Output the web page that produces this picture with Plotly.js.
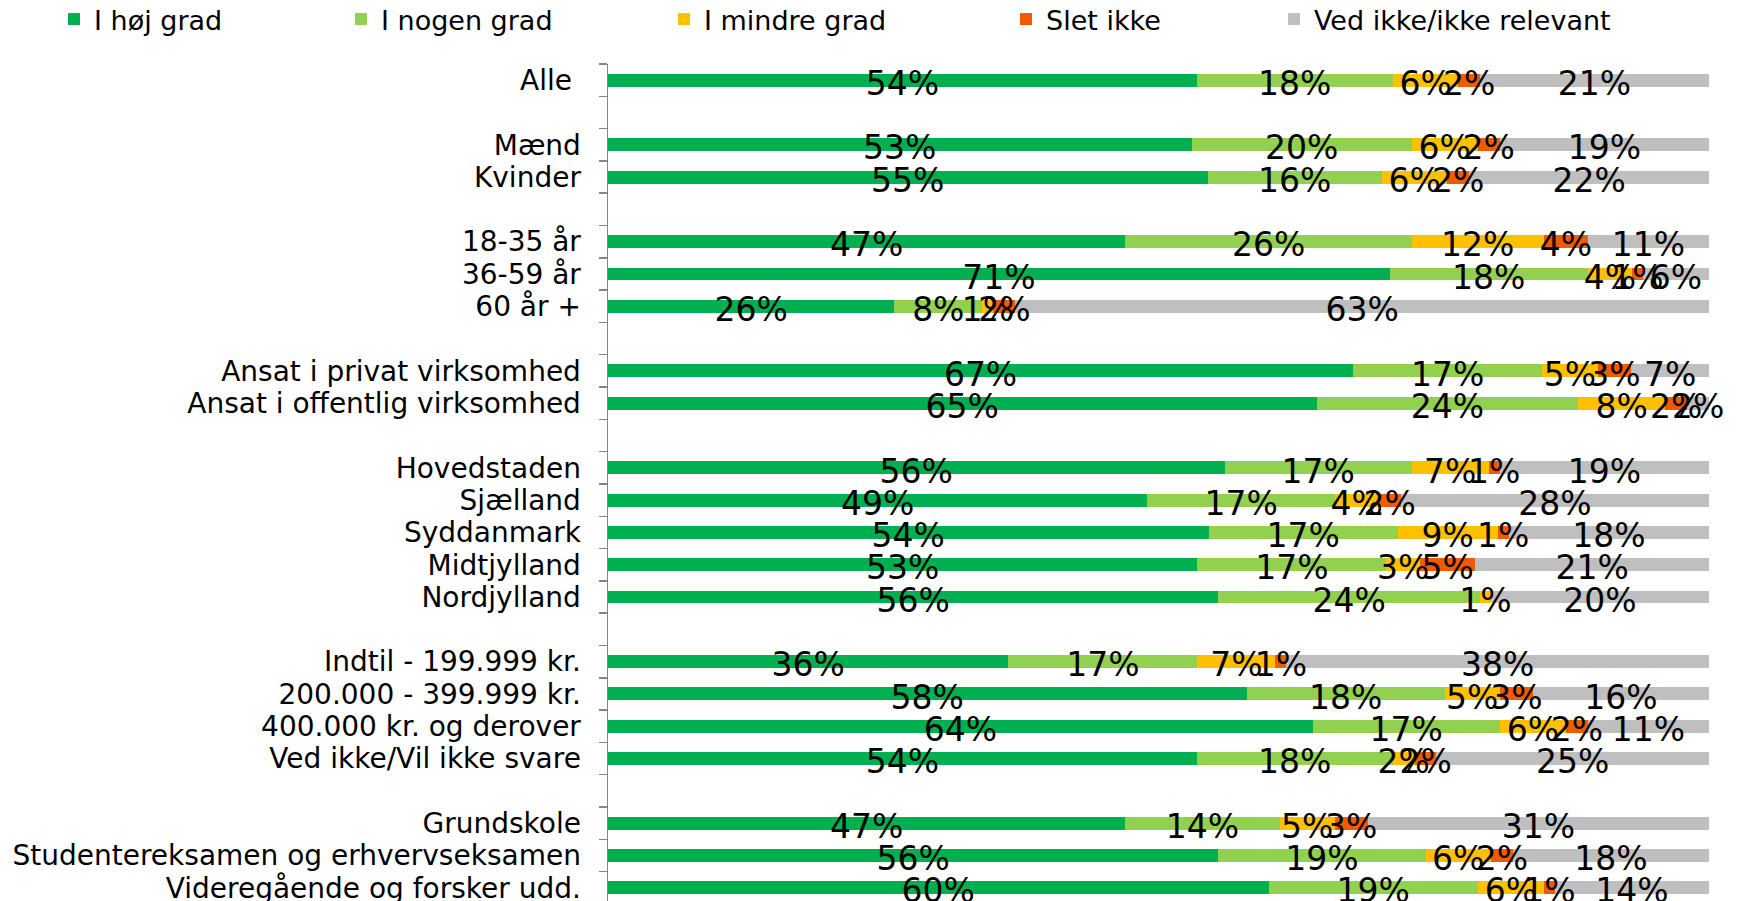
<!DOCTYPE html>
<html>
<head>
<meta charset="utf-8">
<script src="https://cdn.plot.ly/plotly-3.0.1.min.js"></script>
<style>
html,body{margin:0;padding:0;overflow:hidden;background:#ffffff}
#chart{width:1737px;height:901px}
</style>
</head>
<body>
<div id="chart"></div>
<script>
// Categories (blank entries are the gaps between groups)
const categories = [
  "Alle\u00a0", " ",
  "Mænd", "Kvinder", "  ",
  "18-35 år", "36-59 år", "60 år +", "   ",
  "Ansat i privat virksomhed", "Ansat i offentlig virksomhed", "    ",
  "Hovedstaden", "Sjælland", "Syddanmark", "Midtjylland", "Nordjylland", "     ",
  "Indtil - 199.999 kr.", "200.000 - 399.999 kr.", "400.000 kr. og derover", "Ved ikke/Vil ikke svare", "      ",
  "Grundskole", "Studentereksamen og erhvervseksamen", "Videregående og forsker udd."
];

// Series values (percent)
const hoejGrad   = [54,null,53,55,null,47,71,26,null,67,65,null,56,49,54,53,56,null,36,58,64,54,null,47,56,60];
const nogenGrad  = [18,null,20,16,null,26,18,8,null,17,24,null,17,17,17,17,24,null,17,18,17,18,null,14,19,19];
const mindreGrad = [6,null,6,6,null,12,4,1,null,5,8,null,7,4,9,3,1,null,7,5,6,2,null,5,6,6];
const sletIkke   = [2,null,2,2,null,4,1,2,null,3,2,null,1,2,1,5,0,null,1,3,2,2,null,3,2,1];
const vedIkke    = [21,null,19,22,null,11,6,63,null,7,2,null,19,28,18,21,20,null,38,16,11,25,null,31,18,14];

const seriesNames = ["I høj grad", "I nogen grad", "I mindre grad", "Slet ikke", "Ved ikke/ikke relevant"];
const seriesValues = [hoejGrad, nogenGrad, mindreGrad, sletIkke, vedIkke];
const seriesColors = ["#00B050", "#92D050", "#FFC000", "#F05A00", "#BFBFBF"];
const legendWidths = [242, 278, 297, 223, 300];

const FONT = "DejaVu Sans, Verdana, sans-serif";
const labelFont = {family: FONT, size: 33, color: "#000000"};

// Coloured bars (no text) on the main axes
const barTraces = seriesNames.map((name, i) => ({
  type: "bar",
  orientation: "h",
  name: name,
  y: categories,
  x: seriesValues[i],
  xaxis: "x",
  yaxis: "y",
  marker: {color: seriesColors[i], line: {width: 0}},
  legendwidth: legendWidths[i],
  hoverinfo: "name+x+y"
}));

// Same stacks on an overlaid pair of axes, transparent, carrying the data labels
// so that every label is drawn above every bar (as in the original chart)
const labelTraces = seriesNames.map((name, i) => ({
  type: "bar",
  orientation: "h",
  name: name,
  showlegend: false,
  y: categories,
  x: seriesValues[i],
  xaxis: "x2",
  yaxis: "y2",
  text: seriesValues[i].map(v => (v === null || v === 0) ? "" : v + "%"),
  textposition: "inside",
  insidetextanchor: "middle",
  textangle: 0,
  constraintext: "none",
  cliponaxis: false,
  textfont: labelFont,
  insidetextfont: labelFont,
  marker: {color: "rgba(0,0,0,0)", line: {width: 0}},
  hoverinfo: "skip"
}));

const PLOT_L = 608, PLOT_R = 28, PLOT_T = 64;
const plotW = 1737 - PLOT_L - PLOT_R;
const plotH = 901 - PLOT_T;
const X_RANGE = [0, 100.001];
const Y_RANGE = [25.41, -0.5];
const LABEL_SHIFT = 0.1; // labels sit slightly below the bar centre
const Y_RANGE_LABELS = [Y_RANGE[0] - LABEL_SHIFT, Y_RANGE[1] - LABEL_SHIFT];

const layout = {
  width: 1737,
  height: 901,
  barmode: "stack",
  barnorm: "percent",
  bargap: 0.6,
  paper_bgcolor: "#ffffff",
  plot_bgcolor: "#ffffff",
  margin: {l: PLOT_L, r: PLOT_R, t: PLOT_T, b: 0, pad: 0, autoexpand: false},
  font: {family: FONT, color: "#000000"},
  xaxis: {
    visible: false,
    range: X_RANGE,
    fixedrange: true
  },
  yaxis: {
    type: "category",
    categoryorder: "array",
    categoryarray: categories,
    range: Y_RANGE,
    tickmode: "linear",
    tick0: 0,
    dtick: 1,
    showline: true,
    linecolor: "#868686",
    linewidth: 1.5,
    ticks: "outside",
    tickson: "boundaries",
    ticklen: 8,
    tickwidth: 1.5,
    tickcolor: "#868686",
    ticklabelstandoff: 20,
    tickfont: {family: FONT, size: 28, color: "#000000"},
    showgrid: false,
    zeroline: false,
    fixedrange: true
  },
  xaxis2: {
    overlaying: "x",
    visible: false,
    range: X_RANGE,
    fixedrange: true
  },
  yaxis2: {
    overlaying: "y",
    type: "category",
    categoryorder: "array",
    categoryarray: categories,
    range: Y_RANGE_LABELS,
    visible: false,
    fixedrange: true
  },
  showlegend: true,
  legend: {
    orientation: "h",
    xref: "paper",
    yref: "paper",
    x: (54 - PLOT_L) / plotW,
    xanchor: "left",
    y: 1 + (PLOT_T + 5) / plotH,
    yanchor: "top",
    traceorder: "normal",
    itemwidth: 30,
    bgcolor: "rgba(0,0,0,0)",
    font: {family: FONT, size: 27, color: "#000000"}
  }
};

Plotly.newPlot("chart", barTraces.concat(labelTraces), layout, {displayModeBar: false, staticPlot: true});
</script>
</body>
</html>
